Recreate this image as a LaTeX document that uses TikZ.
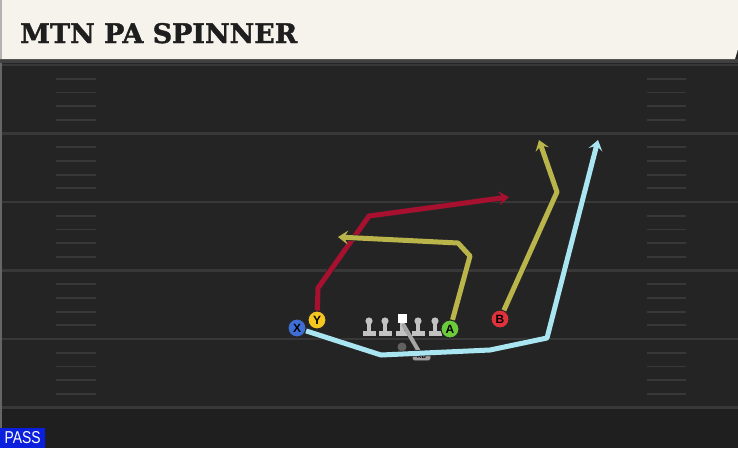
\documentclass[tikz,border=0pt]{standalone}
\usepackage{fontspec}
\usepackage{graphicx}
\setmainfont{Liberation Sans}
\newfontfamily\titlefont{DejaVu Serif}[FakeBold=1.5]
\usetikzlibrary{arrows.meta}
\definecolor{fieldbg}{HTML}{242424}
\definecolor{fieldlow}{HTML}{1F1F1F}
\definecolor{yardgrey}{HTML}{383838}
\definecolor{titlebg}{HTML}{F5F3EC}
\definecolor{titleink}{HTML}{1E1E1E}
\definecolor{passblue}{HTML}{0B20DC}
\definecolor{xblue}{HTML}{3F6FD6}
\definecolor{yyellow}{HTML}{F3C620}
\definecolor{agreen}{HTML}{6CCB3A}
\definecolor{bred}{HTML}{E1323C}
\definecolor{olgrey}{HTML}{C2C2C2}
\definecolor{routeblue}{HTML}{A9E6F2}
\definecolor{routered}{HTML}{A8102F}
\definecolor{routeolive}{HTML}{B9B54B}
\tikzset{
  player/.style={circle, draw=black!85, line width=1pt, minimum size=18pt,
    inner sep=0pt, font=\bfseries\fontsize{12}{12}\selectfont},
  route/.style={line width=5pt, line join=round,
    -{Stealth[length=10pt,width=14pt,inset=4pt]},
    preaction={draw=black!85, line width=6.5pt}},
  yardline/.style={yardgrey, line width=2.2pt},
  hashmark/.style={yardgrey, line width=1.8pt},
  olpart/.style={fill=olgrey}
}
\begin{document}
\begin{tikzpicture}[x=1pt,y=-1pt]
    \useasboundingbox (0,0) rectangle (738,448);
    \fill[fieldbg] (0,0) rectangle (738,448);
    \fill[fieldlow] (0,408) rectangle (738,448);
    \foreach \yl in {65,133.5,202,270.5,339,407.5} {
        \draw[yardline] (2,\yl) -- (738,\yl);
    }
    \foreach \yl in {65,133.5,202,270.5,339} {
        \foreach \k in {1,...,4} {
            \draw[hashmark] (56,\yl+13.7*\k) -- (96,\yl+13.7*\k);
            \draw[hashmark] (647,\yl+13.7*\k) -- (686,\yl+13.7*\k);
        }
    }
    \draw[black!60, line width=1.5pt] (0.75,0) -- (0.75,448);
    \fill[black!75] (0,59) rectangle (738,63);
    \fill[titlebg] (0,0) -- (738,0) -- (738,49) -- (735,59) -- (0,59) -- cycle;
    \fill[black!30] (0,0) rectangle (2,59);
    \node[anchor=base west, text=titleink, inner sep=0pt] (title) at (20,43)
      {\resizebox{277pt}{20pt}{\titlefont\bfseries MTN PA SPINNER}};
    \node[fill=passblue, text=white, anchor=south west, minimum width=45pt,
      minimum height=20pt, inner sep=0pt] (pass) at (0,448) {\resizebox{36pt}{12pt}{PASS}};

    \foreach \lx in {369,385,418,435} {
        \fill[olpart] (\lx,321) circle [radius=3.6];
        \fill[olpart] (\lx-1.8,321) rectangle (\lx+1.8,333);
        \fill[olpart] (\lx-6.5,330.5) rectangle (\lx+6.5,336);
    }
    \fill[olpart] (400,322) rectangle (404,333);
    \fill[olpart] (395.5,330.5) rectangle (408.5,336);
    \node[fill=white, minimum size=9pt, inner sep=0pt] (C) at (402,318) {};
    \node[circle, fill=black!62, minimum size=9pt, inner sep=0pt] (QB) at (402,347) {};
    \node[fill=black!38, draw=black!85, rounded corners=2pt, minimum width=18pt,
      minimum height=9pt, inner sep=0pt, font=\bfseries\fontsize{6}{6}\selectfont] (RB) at (421.5,356) {RB};
    \draw[olgrey!85!black, line width=4pt] (403,324) -- (RB);

    \node[player, fill=xblue] (X) at (297,328) {X};
    \node[player, fill=yyellow] (Y) at (317,320) {Y};
    \node[player, fill=agreen] (A) at (450,329) {A};
    \node[player, fill=bred] (B) at (500,319) {B};

    \coordinate (x1) at (381,355);
    \coordinate (x2) at (490,350);
    \coordinate (x3) at (547,338);
    \coordinate (xend) at (598,140);
    \coordinate (y1) at (318,288);
    \coordinate (y2) at (369,216);
    \coordinate (yend) at (509,197);
    \coordinate (a1) at (470,256);
    \coordinate (a2) at (458,243);
    \coordinate (aend) at (338,237);
    \coordinate (b1) at (557,192);
    \coordinate (bend) at (539,140);

    \draw[route, routeblue] (X) -- (x1) -- (x2) -- (x3) -- (xend);
    \draw[route, routered] (Y) -- (y1) -- (y2) -- (yend);
    \draw[route, routeolive] (A) -- (a1) -- (a2) -- (aend);
    \draw[route, routeolive] (B) -- (b1) -- (bend);
\end{tikzpicture}
\end{document}
